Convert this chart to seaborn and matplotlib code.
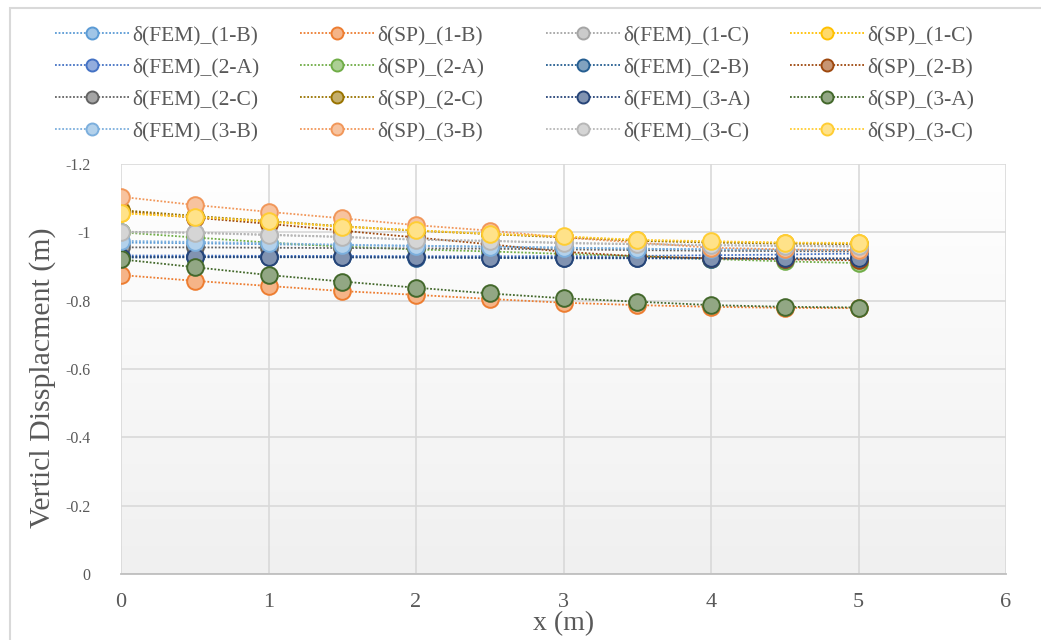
import numpy as np
import pandas as pd
import matplotlib
matplotlib.use("Agg")
import matplotlib.pyplot as plt
import matplotlib.colors as mcolors
from matplotlib.patches import Rectangle
import seaborn as sns

# x positions along the member (m)
x_m = [0, 0.5, 1, 1.5, 2, 2.5, 3, 3.5, 4, 4.5, 5]

# vertical displacement (m)
fem_1b = [-0.970, -0.968, -0.965, -0.962, -0.960, -0.958, -0.955, -0.952, -0.950, -0.948, -0.946]
sp_1b = [-0.875, -0.858, -0.843, -0.828, -0.817, -0.805, -0.794, -0.787, -0.782, -0.779, -0.778]
fem_1c = [-1.002, -0.999, -0.993, -0.987, -0.978, -0.975, -0.968, -0.965, -0.962, -0.960, -0.958]
sp_1c = [-1.056, -1.044, -1.031, -1.016, -1.005, -0.995, -0.987, -0.977, -0.973, -0.969, -0.968]
fem_2a = [-0.932, -0.932, -0.931, -0.931, -0.930, -0.930, -0.930, -0.931, -0.933, -0.935, -0.938]
sp_2a = [-1.000, -0.985, -0.970, -0.958, -0.950, -0.944, -0.937, -0.930, -0.922, -0.915, -0.910]
fem_2b = [-0.926, -0.927, -0.927, -0.927, -0.926, -0.925, -0.924, -0.924, -0.923, -0.923, -0.922]
sp_2b = [-1.062, -1.043, -1.025, -1.005, -0.985, -0.965, -0.943, -0.930, -0.924, -0.921, -0.918]
fem_2c = [-0.956, -0.956, -0.955, -0.954, -0.953, -0.952, -0.950, -0.948, -0.946, -0.945, -0.944]
sp_2c = [-1.065, -1.048, -1.033, -1.018, -1.005, -0.995, -0.985, -0.975, -0.970, -0.967, -0.965]
fem_3a = [-0.928, -0.928, -0.928, -0.927, -0.927, -0.926, -0.926, -0.925, -0.925, -0.924, -0.924]
sp_3a = [-0.921, -0.898, -0.875, -0.856, -0.838, -0.821, -0.807, -0.797, -0.787, -0.782, -0.780]
fem_3b = [-0.975, -0.972, -0.968, -0.964, -0.961, -0.958, -0.955, -0.952, -0.950, -0.949, -0.948]
sp_3b = [-1.104, -1.080, -1.060, -1.041, -1.021, -1.005, -0.985, -0.970, -0.955, -0.950, -0.948]
fem_3c = [-1.000, -0.998, -0.992, -0.986, -0.979, -0.975, -0.970, -0.966, -0.963, -0.961, -0.960]
sp_3c = [-1.057, -1.045, -1.032, -1.017, -1.006, -0.996, -0.988, -0.978, -0.974, -0.970, -0.969]

series_names = ["δ(FEM)_(1-B)", "δ(SP)_(1-B)", "δ(FEM)_(1-C)", "δ(SP)_(1-C)",
                "δ(FEM)_(2-A)", "δ(SP)_(2-A)", "δ(FEM)_(2-B)", "δ(SP)_(2-B)",
                "δ(FEM)_(2-C)", "δ(SP)_(2-C)", "δ(FEM)_(3-A)", "δ(SP)_(3-A)",
                "δ(FEM)_(3-B)", "δ(SP)_(3-B)", "δ(FEM)_(3-C)", "δ(SP)_(3-C)"]
series_values = [fem_1b, sp_1b, fem_1c, sp_1c, fem_2a, sp_2a, fem_2b, sp_2b,
                 fem_2c, sp_2c, fem_3a, sp_3a, fem_3b, sp_3b, fem_3c, sp_3c]
series_colors = ["#5B9BD5", "#ED7D31", "#A5A5A5", "#FFC000",
                 "#4472C4", "#70AD47", "#255E91", "#9E480E",
                 "#636363", "#997300", "#264478", "#43682B",
                 "#7CAFDD", "#F1975A", "#B7B7B7", "#FFCD33"]

sns.set_style("white")
plt.rcParams['font.family'] = ['Liberation Serif', 'DejaVu Serif']
text_col = "#595959"

fig = plt.figure(figsize=(10.41, 6.4), dpi=100)
ax = fig.add_axes([121 / 1041, 66 / 640, 885 / 1041, 410 / 640])

# light gradient fill of the plot area (white at top -> light grey at bottom)
grad = np.linspace(0, 1, 256).reshape(-1, 1)
cmap = mcolors.LinearSegmentedColormap.from_list("bg", ["#FFFFFF", "#F0F0F0"])
ax.imshow(grad, aspect="auto", cmap=cmap, extent=[0, 1, 0, 1],
          transform=ax.transAxes, zorder=0)

for name, vals, col in zip(series_names, series_values, series_colors):
    df = pd.DataFrame({"x": x_m, "y": vals})
    rgb = mcolors.to_rgb(col)
    face = tuple(0.42 + 0.58 * c for c in rgb)
    sns.lineplot(data=df, x="x", y="y", ax=ax, color=col, label=name,
                 linestyle=(0, (1, 1)), linewidth=1.3, alpha=1,
                 marker="o", markersize=12, markeredgewidth=1.4,
                 markeredgecolor=col, markerfacecolor=face, zorder=3)

ax.set_xlim(0, 6)
ax.set_ylim(0, -1.2)
ax.set_xticks(range(0, 7))
ax.set_yticks([0, -0.2, -0.4, -0.6, -0.8, -1, -1.2])
ax.set_yticklabels(["0", "-0.2", "-0.4", "-0.6", "-0.8", "-1", "-1.2"])
ax.grid(True, color="#D9D9D9", linewidth=1.2, zorder=1)
ax.set_axisbelow(True)
for s in ["top", "right", "left"]:
    ax.spines[s].set_visible(False)
ax.spines["bottom"].set_color("#BFBFBF")
ax.spines["bottom"].set_linewidth(1.3)
ax.tick_params(axis="x", labelsize=16, colors=text_col, length=0, pad=14)
ax.tick_params(axis="y", labelsize=11.5, colors=text_col, length=0, pad=22)
ax.set_xlabel("x (m)", fontsize=20, color=text_col, labelpad=-1)
ax.set_ylabel("Verticl Dissplacment (m)", fontsize=21.5, color=text_col)
ax.yaxis.set_label_coords(-0.073, 0.48)

# legend: 4 fixed-width columns, filled row by row
handles, labels = ax.get_legend_handles_labels()
ax.get_legend().remove()
col_anchor_px = [36, 281, 527, 771]
for c, xpx in enumerate(col_anchor_px):
    idx = list(range(c, len(handles), 4))
    leg = fig.legend([handles[i] for i in idx], [labels[i] for i in idx],
                     loc="upper left", bbox_to_anchor=(xpx / 1041, 1 - 6 / 640),
                     ncol=1, frameon=False, fontsize=15.5, handlelength=3.4,
                     handletextpad=0.15, labelspacing=0.55, markerscale=0.72)
    for t in leg.get_texts():
        t.set_color(text_col)

# outer chart border
fig.patches.append(Rectangle((10 / 1041, -0.05), 1.1, 0.05 + (640 - 8) / 640,
                             transform=fig.transFigure, fill=False,
                             edgecolor="#D9D9D9", linewidth=1.5))

fig.savefig("out.png", dpi=100)
